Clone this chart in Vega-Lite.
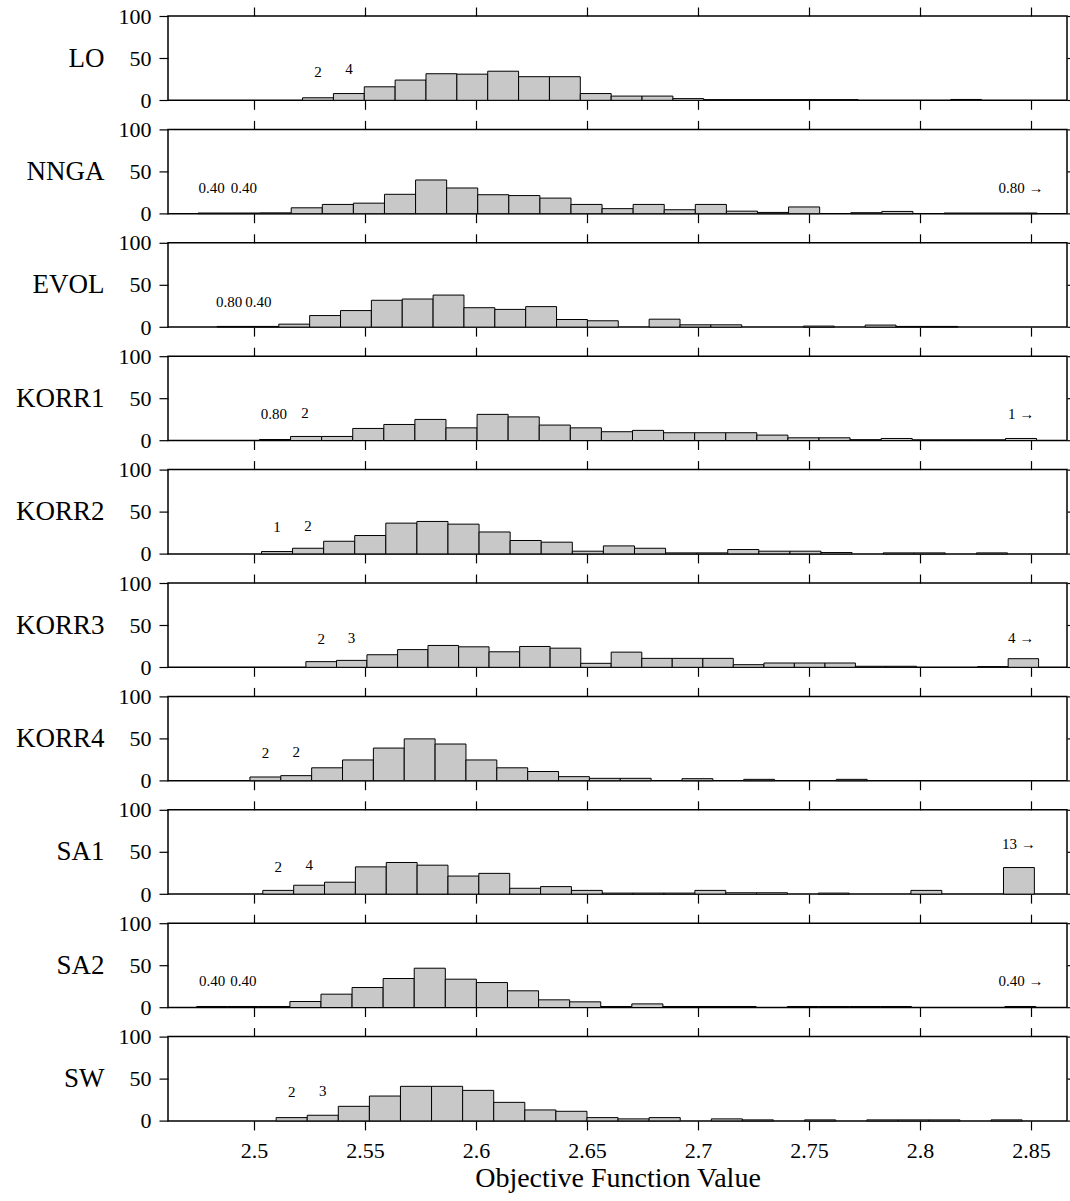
{
"$schema": "https://vega.github.io/schema/vega-lite/v6.json",
"padding": {"left": 14, "top": 4, "right": 0, "bottom": 0},
"background": "white",
"spacing": 28.4,
"bounds": "flush",
"config": {
 "view": {"stroke": "black", "strokeWidth": 1.5},
 "axis": {"tickColor": "black", "tickWidth": 1.2, "labelColor": "black", "titleColor": "black", "labelFont": "Liberation Serif", "titleFont": "Liberation Serif", "titleFontWeight": "normal", "grid": false, "labelFlush": false, "labelOverlap": false, "domain": false},
 "text": {"font": "Liberation Serif"}
},
"datasets": {
"bars": [
{"p":"LO","x0":2.5219,"x1":2.5358,"h":3},{"p":"LO","x0":2.5358,"x1":2.5497,"h":8},{"p":"LO","x0":2.5497,"x1":2.5636,"h":16},{"p":"LO","x0":2.5636,"x1":2.5775,"h":24},{"p":"LO","x0":2.5775,"x1":2.5914,"h":31.5},{"p":"LO","x0":2.5914,"x1":2.6053,"h":31},{"p":"LO","x0":2.6053,"x1":2.6192,"h":34.5},{"p":"LO","x0":2.6192,"x1":2.6331,"h":28},{"p":"LO","x0":2.6331,"x1":2.647,"h":28},{"p":"LO","x0":2.647,"x1":2.6609,"h":8},{"p":"LO","x0":2.6609,"x1":2.6748,"h":5},{"p":"LO","x0":2.6748,"x1":2.6887,"h":5},{"p":"LO","x0":2.6887,"x1":2.7026,"h":2},{"p":"LO","x0":2.7026,"x1":2.7165,"h":0.8},{"p":"LO","x0":2.7165,"x1":2.7304,"h":0.8},{"p":"LO","x0":2.7304,"x1":2.7443,"h":0.8},{"p":"LO","x0":2.7443,"x1":2.7582,"h":0.8},{"p":"LO","x0":2.7582,"x1":2.7721,"h":0.8},{"p":"LO","x0":2.8138,"x1":2.8277,"h":1},
{"p":"NNGA","x0":2.4748,"x1":2.4888,"h":0.8},{"p":"NNGA","x0":2.4888,"x1":2.5028,"h":0.8},{"p":"NNGA","x0":2.5028,"x1":2.5168,"h":1},{"p":"NNGA","x0":2.5168,"x1":2.5308,"h":7},{"p":"NNGA","x0":2.5308,"x1":2.5448,"h":11},{"p":"NNGA","x0":2.5448,"x1":2.5588,"h":12.5},{"p":"NNGA","x0":2.5588,"x1":2.5728,"h":23},{"p":"NNGA","x0":2.5728,"x1":2.5868,"h":40},{"p":"NNGA","x0":2.5868,"x1":2.6008,"h":30.5},{"p":"NNGA","x0":2.6008,"x1":2.6148,"h":22.5},{"p":"NNGA","x0":2.6148,"x1":2.6288,"h":21.5},{"p":"NNGA","x0":2.6288,"x1":2.6428,"h":18.5},{"p":"NNGA","x0":2.6428,"x1":2.6568,"h":11},{"p":"NNGA","x0":2.6568,"x1":2.6708,"h":6},{"p":"NNGA","x0":2.6708,"x1":2.6848,"h":11},{"p":"NNGA","x0":2.6848,"x1":2.6988,"h":4.7},{"p":"NNGA","x0":2.6988,"x1":2.7128,"h":11},{"p":"NNGA","x0":2.7128,"x1":2.7268,"h":3},{"p":"NNGA","x0":2.7268,"x1":2.7408,"h":1.5},{"p":"NNGA","x0":2.7408,"x1":2.7548,"h":8},{"p":"NNGA","x0":2.7688,"x1":2.7828,"h":1.2},{"p":"NNGA","x0":2.7828,"x1":2.7968,"h":2.7},{"p":"NNGA","x0":2.8108,"x1":2.8248,"h":0.8},{"p":"NNGA","x0":2.8248,"x1":2.8388,"h":0.8},{"p":"NNGA","x0":2.8388,"x1":2.8528,"h":0.8},
{"p":"EVOL","x0":2.4834,"x1":2.4973,"h":0.8},{"p":"EVOL","x0":2.4973,"x1":2.5112,"h":0.8},{"p":"EVOL","x0":2.5112,"x1":2.5251,"h":3.5},{"p":"EVOL","x0":2.5251,"x1":2.539,"h":13.7},{"p":"EVOL","x0":2.539,"x1":2.5529,"h":19.6},{"p":"EVOL","x0":2.5529,"x1":2.5668,"h":31.8},{"p":"EVOL","x0":2.5668,"x1":2.5807,"h":33.3},{"p":"EVOL","x0":2.5807,"x1":2.5946,"h":38},{"p":"EVOL","x0":2.5946,"x1":2.6085,"h":23},{"p":"EVOL","x0":2.6085,"x1":2.6224,"h":21},{"p":"EVOL","x0":2.6224,"x1":2.6363,"h":24.3},{"p":"EVOL","x0":2.6363,"x1":2.6502,"h":9},{"p":"EVOL","x0":2.6502,"x1":2.6641,"h":7.5},{"p":"EVOL","x0":2.678,"x1":2.6919,"h":9.4},{"p":"EVOL","x0":2.6919,"x1":2.7058,"h":2.7},{"p":"EVOL","x0":2.7058,"x1":2.7197,"h":2.7},{"p":"EVOL","x0":2.7475,"x1":2.7614,"h":1.2},{"p":"EVOL","x0":2.7753,"x1":2.7892,"h":2.4},{"p":"EVOL","x0":2.7892,"x1":2.8031,"h":0.8},{"p":"EVOL","x0":2.8031,"x1":2.817,"h":0.8},
{"p":"KORR1","x0":2.5025,"x1":2.5165,"h":1.2},{"p":"KORR1","x0":2.5165,"x1":2.5305,"h":4.8},{"p":"KORR1","x0":2.5305,"x1":2.5445,"h":4.8},{"p":"KORR1","x0":2.5445,"x1":2.5585,"h":14.3},{"p":"KORR1","x0":2.5585,"x1":2.5725,"h":19},{"p":"KORR1","x0":2.5725,"x1":2.5865,"h":25},{"p":"KORR1","x0":2.5865,"x1":2.6005,"h":15},{"p":"KORR1","x0":2.6005,"x1":2.6145,"h":31},{"p":"KORR1","x0":2.6145,"x1":2.6285,"h":28},{"p":"KORR1","x0":2.6285,"x1":2.6425,"h":18.3},{"p":"KORR1","x0":2.6425,"x1":2.6565,"h":15},{"p":"KORR1","x0":2.6565,"x1":2.6705,"h":10.4},{"p":"KORR1","x0":2.6705,"x1":2.6845,"h":12},{"p":"KORR1","x0":2.6845,"x1":2.6985,"h":9.2},{"p":"KORR1","x0":2.6985,"x1":2.7125,"h":9.2},{"p":"KORR1","x0":2.7125,"x1":2.7265,"h":9.2},{"p":"KORR1","x0":2.7265,"x1":2.7405,"h":6.4},{"p":"KORR1","x0":2.7405,"x1":2.7545,"h":3.2},{"p":"KORR1","x0":2.7545,"x1":2.7685,"h":3.2},{"p":"KORR1","x0":2.7685,"x1":2.7825,"h":1},{"p":"KORR1","x0":2.7825,"x1":2.7965,"h":2.4},{"p":"KORR1","x0":2.7965,"x1":2.8105,"h":0.8},{"p":"KORR1","x0":2.8105,"x1":2.8245,"h":0.8},{"p":"KORR1","x0":2.8245,"x1":2.8385,"h":0.8},{"p":"KORR1","x0":2.8385,"x1":2.8525,"h":2.4},
{"p":"KORR2","x0":2.5034,"x1":2.5174,"h":2.8},{"p":"KORR2","x0":2.5174,"x1":2.5314,"h":6.7},{"p":"KORR2","x0":2.5314,"x1":2.5454,"h":15},{"p":"KORR2","x0":2.5454,"x1":2.5594,"h":21.8},{"p":"KORR2","x0":2.5594,"x1":2.5734,"h":36.5},{"p":"KORR2","x0":2.5734,"x1":2.5874,"h":38.5},{"p":"KORR2","x0":2.5874,"x1":2.6014,"h":35.3},{"p":"KORR2","x0":2.6014,"x1":2.6154,"h":26},{"p":"KORR2","x0":2.6154,"x1":2.6294,"h":15.9},{"p":"KORR2","x0":2.6294,"x1":2.6434,"h":13.9},{"p":"KORR2","x0":2.6434,"x1":2.6574,"h":3.2},{"p":"KORR2","x0":2.6574,"x1":2.6714,"h":9.5},{"p":"KORR2","x0":2.6714,"x1":2.6854,"h":6.7},{"p":"KORR2","x0":2.6854,"x1":2.6994,"h":1.2},{"p":"KORR2","x0":2.6994,"x1":2.7134,"h":1.2},{"p":"KORR2","x0":2.7134,"x1":2.7274,"h":5.2},{"p":"KORR2","x0":2.7274,"x1":2.7414,"h":3.2},{"p":"KORR2","x0":2.7414,"x1":2.7554,"h":3.2},{"p":"KORR2","x0":2.7554,"x1":2.7694,"h":1.6},{"p":"KORR2","x0":2.7834,"x1":2.7974,"h":1.2},{"p":"KORR2","x0":2.7974,"x1":2.8114,"h":1.2},{"p":"KORR2","x0":2.8254,"x1":2.8394,"h":1.2},
{"p":"KORR3","x0":2.5234,"x1":2.5372,"h":6.7},{"p":"KORR3","x0":2.5372,"x1":2.5509,"h":8.2},{"p":"KORR3","x0":2.5509,"x1":2.5647,"h":14.9},{"p":"KORR3","x0":2.5647,"x1":2.5784,"h":21},{"p":"KORR3","x0":2.5784,"x1":2.5922,"h":25.9},{"p":"KORR3","x0":2.5922,"x1":2.6059,"h":24.3},{"p":"KORR3","x0":2.6059,"x1":2.6197,"h":18.4},{"p":"KORR3","x0":2.6197,"x1":2.6334,"h":24.7},{"p":"KORR3","x0":2.6334,"x1":2.6472,"h":22.7},{"p":"KORR3","x0":2.6472,"x1":2.6609,"h":4.7},{"p":"KORR3","x0":2.6609,"x1":2.6747,"h":18},{"p":"KORR3","x0":2.6747,"x1":2.6884,"h":10.6},{"p":"KORR3","x0":2.6884,"x1":2.7022,"h":10.6},{"p":"KORR3","x0":2.7022,"x1":2.7159,"h":10.6},{"p":"KORR3","x0":2.7159,"x1":2.7297,"h":3.1},{"p":"KORR3","x0":2.7297,"x1":2.7434,"h":5.1},{"p":"KORR3","x0":2.7434,"x1":2.7572,"h":5.1},{"p":"KORR3","x0":2.7572,"x1":2.7709,"h":5.1},{"p":"KORR3","x0":2.7709,"x1":2.7847,"h":1.2},{"p":"KORR3","x0":2.7847,"x1":2.7984,"h":1.2},{"p":"KORR3","x0":2.8259,"x1":2.8397,"h":0.8},{"p":"KORR3","x0":2.8397,"x1":2.8534,"h":10.2},
{"p":"KORR4","x0":2.4982,"x1":2.5121,"h":4.4},{"p":"KORR4","x0":2.5121,"x1":2.526,"h":6},{"p":"KORR4","x0":2.526,"x1":2.5399,"h":15.3},{"p":"KORR4","x0":2.5399,"x1":2.5538,"h":24.6},{"p":"KORR4","x0":2.5538,"x1":2.5677,"h":38.7},{"p":"KORR4","x0":2.5677,"x1":2.5816,"h":49.6},{"p":"KORR4","x0":2.5816,"x1":2.5955,"h":43.5},{"p":"KORR4","x0":2.5955,"x1":2.6094,"h":24.6},{"p":"KORR4","x0":2.6094,"x1":2.6233,"h":15.3},{"p":"KORR4","x0":2.6233,"x1":2.6372,"h":10.9},{"p":"KORR4","x0":2.6372,"x1":2.6511,"h":4.8},{"p":"KORR4","x0":2.6511,"x1":2.665,"h":2.8},{"p":"KORR4","x0":2.665,"x1":2.6789,"h":2.8},{"p":"KORR4","x0":2.6928,"x1":2.7067,"h":2.4},{"p":"KORR4","x0":2.7206,"x1":2.7345,"h":1.6},{"p":"KORR4","x0":2.7623,"x1":2.7762,"h":1.6},
{"p":"SA1","x0":2.504,"x1":2.5179,"h":4.4},{"p":"SA1","x0":2.5179,"x1":2.5318,"h":10.5},{"p":"SA1","x0":2.5318,"x1":2.5457,"h":14.1},{"p":"SA1","x0":2.5457,"x1":2.5596,"h":32.3},{"p":"SA1","x0":2.5596,"x1":2.5735,"h":37.5},{"p":"SA1","x0":2.5735,"x1":2.5874,"h":34.3},{"p":"SA1","x0":2.5874,"x1":2.6013,"h":21.4},{"p":"SA1","x0":2.6013,"x1":2.6152,"h":24.6},{"p":"SA1","x0":2.6152,"x1":2.6291,"h":6.9},{"p":"SA1","x0":2.6291,"x1":2.643,"h":8.9},{"p":"SA1","x0":2.643,"x1":2.6569,"h":4.4},{"p":"SA1","x0":2.6569,"x1":2.6708,"h":1.2},{"p":"SA1","x0":2.6708,"x1":2.6847,"h":1.2},{"p":"SA1","x0":2.6847,"x1":2.6986,"h":1.2},{"p":"SA1","x0":2.6986,"x1":2.7125,"h":4.4},{"p":"SA1","x0":2.7125,"x1":2.7264,"h":1.6},{"p":"SA1","x0":2.7264,"x1":2.7403,"h":1.6},{"p":"SA1","x0":2.7542,"x1":2.7681,"h":1.2},{"p":"SA1","x0":2.7959,"x1":2.8098,"h":4.4},{"p":"SA1","x0":2.8376,"x1":2.8515,"h":31.5},
{"p":"SA2","x0":2.4742,"x1":2.4882,"h":1.2},{"p":"SA2","x0":2.4882,"x1":2.5022,"h":1.2},{"p":"SA2","x0":2.5022,"x1":2.5162,"h":1.2},{"p":"SA2","x0":2.5162,"x1":2.5302,"h":7.1},{"p":"SA2","x0":2.5302,"x1":2.5442,"h":15.8},{"p":"SA2","x0":2.5442,"x1":2.5582,"h":23.7},{"p":"SA2","x0":2.5582,"x1":2.5722,"h":34.4},{"p":"SA2","x0":2.5722,"x1":2.5862,"h":46.6},{"p":"SA2","x0":2.5862,"x1":2.6002,"h":33.6},{"p":"SA2","x0":2.6002,"x1":2.6142,"h":29.6},{"p":"SA2","x0":2.6142,"x1":2.6282,"h":19.8},{"p":"SA2","x0":2.6282,"x1":2.6422,"h":9.1},{"p":"SA2","x0":2.6422,"x1":2.6562,"h":6.7},{"p":"SA2","x0":2.6562,"x1":2.6702,"h":1.2},{"p":"SA2","x0":2.6702,"x1":2.6842,"h":4.3},{"p":"SA2","x0":2.6842,"x1":2.6982,"h":1.2},{"p":"SA2","x0":2.6982,"x1":2.7122,"h":1.2},{"p":"SA2","x0":2.7122,"x1":2.7262,"h":1.2},{"p":"SA2","x0":2.7402,"x1":2.7542,"h":1.2},{"p":"SA2","x0":2.7542,"x1":2.7682,"h":1.2},{"p":"SA2","x0":2.7682,"x1":2.7822,"h":1.2},{"p":"SA2","x0":2.7822,"x1":2.7962,"h":1.2},{"p":"SA2","x0":2.8382,"x1":2.8522,"h":1.2},
{"p":"SW","x0":2.51,"x1":2.524,"h":3.9},{"p":"SW","x0":2.524,"x1":2.538,"h":6.7},{"p":"SW","x0":2.538,"x1":2.552,"h":17.3},{"p":"SW","x0":2.552,"x1":2.566,"h":29.5},{"p":"SW","x0":2.566,"x1":2.58,"h":41},{"p":"SW","x0":2.58,"x1":2.594,"h":41},{"p":"SW","x0":2.594,"x1":2.608,"h":36.2},{"p":"SW","x0":2.608,"x1":2.622,"h":22},{"p":"SW","x0":2.622,"x1":2.636,"h":13},{"p":"SW","x0":2.636,"x1":2.65,"h":11.4},{"p":"SW","x0":2.65,"x1":2.664,"h":3.9},{"p":"SW","x0":2.664,"x1":2.678,"h":2.4},{"p":"SW","x0":2.678,"x1":2.692,"h":3.9},{"p":"SW","x0":2.706,"x1":2.72,"h":2.4},{"p":"SW","x0":2.72,"x1":2.734,"h":1.2},{"p":"SW","x0":2.748,"x1":2.762,"h":1.2},{"p":"SW","x0":2.776,"x1":2.79,"h":1.2},{"p":"SW","x0":2.79,"x1":2.804,"h":1.2},{"p":"SW","x0":2.804,"x1":2.818,"h":1.2},{"p":"SW","x0":2.832,"x1":2.846,"h":1.2}
],
"notes": [
{"p":"LO","t":"2","tx":2.5289,"ty":34},{"p":"LO","t":"4","tx":2.5428,"ty":37},
{"p":"NNGA","t":"0.40","tx":2.481,"ty":30},{"p":"NNGA","t":"0.40","tx":2.4955,"ty":30},{"p":"NNGA","t":"0.80 →","tx":2.8455,"ty":30},
{"p":"EVOL","t":"0.80","tx":2.4888,"ty":30},{"p":"EVOL","t":"0.40","tx":2.502,"ty":30},
{"p":"KORR1","t":"0.80","tx":2.509,"ty":32},{"p":"KORR1","t":"2","tx":2.523,"ty":33},{"p":"KORR1","t":"1 →","tx":2.8455,"ty":31},
{"p":"KORR2","t":"1","tx":2.5104,"ty":32},{"p":"KORR2","t":"2","tx":2.5244,"ty":33},
{"p":"KORR3","t":"2","tx":2.5303,"ty":34},{"p":"KORR3","t":"3","tx":2.544,"ty":35},{"p":"KORR3","t":"4 →","tx":2.8455,"ty":35},
{"p":"KORR4","t":"2","tx":2.5052,"ty":33},{"p":"KORR4","t":"2","tx":2.5191,"ty":34},
{"p":"SA1","t":"2","tx":2.511,"ty":32},{"p":"SA1","t":"4","tx":2.5249,"ty":34},{"p":"SA1","t":"13 →","tx":2.8445,"ty":60},
{"p":"SA2","t":"0.40","tx":2.4812,"ty":31},{"p":"SA2","t":"0.40","tx":2.4952,"ty":31},{"p":"SA2","t":"0.40 →","tx":2.8455,"ty":31},
{"p":"SW","t":"2","tx":2.517,"ty":34},{"p":"SW","t":"3","tx":2.531,"ty":36}
]
},
"vconcat": [
{"width":899,"height":84.3,"layer":[
 {"data":{"name":"bars"},"transform":[{"filter":"datum.p==='LO'"}],"mark":{"type":"rect","fill":"#c8c8c8","stroke":"black","strokeWidth":1},"encoding":{"x":{"field":"x0","type":"quantitative","scale":{"domain":[2.4613,2.8662],"nice":false,"zero":false},"axis":{"orient":"bottom","values":[2.5,2.55,2.6,2.65,2.7,2.75,2.8,2.85],"labels":false,"title":null,"tickSize":9}},"x2":{"field":"x1"},"y":{"field":"h","type":"quantitative","scale":{"domain":[0,100],"nice":false},"axis":{"orient":"left","values":[0,50,100],"tickSize":9,"labelFontSize":22,"labelPadding":8,"title":"LO","titleAngle":0,"titleAlign":"right","titleBaseline":"middle","titleX":-64,"titleY":42,"titleFontSize":27}},"y2":{"datum":0}}},
 {"data":{"name":"notes"},"transform":[{"filter":"datum.p==='LO'"}],"mark":{"type":"text","fontSize":15,"baseline":"middle"},"encoding":{"x":{"field":"tx","type":"quantitative","scale":{"domain":[2.4613,2.8662],"nice":false,"zero":false},"axis":null},"y":{"field":"ty","type":"quantitative","scale":{"domain":[0,100],"nice":false},"axis":null},"text":{"field":"t"}}},
 {"data":{"name":"bars"},"transform":[{"filter":"datum.p==='LO'"}],"mark":{"type":"point","opacity":0},"encoding":{"x":{"field":"x0","type":"quantitative","scale":{"domain":[2.4613,2.8662],"nice":false,"zero":false},"axis":{"orient":"top","values":[2.5,2.55,2.6,2.65,2.7,2.75,2.8,2.85],"labels":false,"title":null,"tickSize":9}},"y":{"field":"h","type":"quantitative","scale":{"domain":[0,100],"nice":false},"axis":{"orient":"right","values":[0,50,100],"labels":false,"title":null,"tickSize":4}}}}
],"resolve":{"axis":{"x":"independent","y":"independent"}}},
{"width":899,"height":84.3,"layer":[
 {"data":{"name":"bars"},"transform":[{"filter":"datum.p==='NNGA'"}],"mark":{"type":"rect","fill":"#c8c8c8","stroke":"black","strokeWidth":1},"encoding":{"x":{"field":"x0","type":"quantitative","scale":{"domain":[2.4613,2.8662],"nice":false,"zero":false},"axis":{"orient":"bottom","values":[2.5,2.55,2.6,2.65,2.7,2.75,2.8,2.85],"labels":false,"title":null,"tickSize":9}},"x2":{"field":"x1"},"y":{"field":"h","type":"quantitative","scale":{"domain":[0,100],"nice":false},"axis":{"orient":"left","values":[0,50,100],"tickSize":9,"labelFontSize":22,"labelPadding":8,"title":"NNGA","titleAngle":0,"titleAlign":"right","titleBaseline":"middle","titleX":-64,"titleY":42,"titleFontSize":27}},"y2":{"datum":0}}},
 {"data":{"name":"notes"},"transform":[{"filter":"datum.p==='NNGA'"}],"mark":{"type":"text","fontSize":15,"baseline":"middle"},"encoding":{"x":{"field":"tx","type":"quantitative","scale":{"domain":[2.4613,2.8662],"nice":false,"zero":false},"axis":null},"y":{"field":"ty","type":"quantitative","scale":{"domain":[0,100],"nice":false},"axis":null},"text":{"field":"t"}}},
 {"data":{"name":"bars"},"transform":[{"filter":"datum.p==='NNGA'"}],"mark":{"type":"point","opacity":0},"encoding":{"x":{"field":"x0","type":"quantitative","scale":{"domain":[2.4613,2.8662],"nice":false,"zero":false},"axis":{"orient":"top","values":[2.5,2.55,2.6,2.65,2.7,2.75,2.8,2.85],"labels":false,"title":null,"tickSize":9}},"y":{"field":"h","type":"quantitative","scale":{"domain":[0,100],"nice":false},"axis":{"orient":"right","values":[0,50,100],"labels":false,"title":null,"tickSize":4}}}}
],"resolve":{"axis":{"x":"independent","y":"independent"}}},
{"width":899,"height":84.3,"layer":[
 {"data":{"name":"bars"},"transform":[{"filter":"datum.p==='EVOL'"}],"mark":{"type":"rect","fill":"#c8c8c8","stroke":"black","strokeWidth":1},"encoding":{"x":{"field":"x0","type":"quantitative","scale":{"domain":[2.4613,2.8662],"nice":false,"zero":false},"axis":{"orient":"bottom","values":[2.5,2.55,2.6,2.65,2.7,2.75,2.8,2.85],"labels":false,"title":null,"tickSize":9}},"x2":{"field":"x1"},"y":{"field":"h","type":"quantitative","scale":{"domain":[0,100],"nice":false},"axis":{"orient":"left","values":[0,50,100],"tickSize":9,"labelFontSize":22,"labelPadding":8,"title":"EVOL","titleAngle":0,"titleAlign":"right","titleBaseline":"middle","titleX":-64,"titleY":42,"titleFontSize":27}},"y2":{"datum":0}}},
 {"data":{"name":"notes"},"transform":[{"filter":"datum.p==='EVOL'"}],"mark":{"type":"text","fontSize":15,"baseline":"middle"},"encoding":{"x":{"field":"tx","type":"quantitative","scale":{"domain":[2.4613,2.8662],"nice":false,"zero":false},"axis":null},"y":{"field":"ty","type":"quantitative","scale":{"domain":[0,100],"nice":false},"axis":null},"text":{"field":"t"}}},
 {"data":{"name":"bars"},"transform":[{"filter":"datum.p==='EVOL'"}],"mark":{"type":"point","opacity":0},"encoding":{"x":{"field":"x0","type":"quantitative","scale":{"domain":[2.4613,2.8662],"nice":false,"zero":false},"axis":{"orient":"top","values":[2.5,2.55,2.6,2.65,2.7,2.75,2.8,2.85],"labels":false,"title":null,"tickSize":9}},"y":{"field":"h","type":"quantitative","scale":{"domain":[0,100],"nice":false},"axis":{"orient":"right","values":[0,50,100],"labels":false,"title":null,"tickSize":4}}}}
],"resolve":{"axis":{"x":"independent","y":"independent"}}},
{"width":899,"height":84.3,"layer":[
 {"data":{"name":"bars"},"transform":[{"filter":"datum.p==='KORR1'"}],"mark":{"type":"rect","fill":"#c8c8c8","stroke":"black","strokeWidth":1},"encoding":{"x":{"field":"x0","type":"quantitative","scale":{"domain":[2.4613,2.8662],"nice":false,"zero":false},"axis":{"orient":"bottom","values":[2.5,2.55,2.6,2.65,2.7,2.75,2.8,2.85],"labels":false,"title":null,"tickSize":9}},"x2":{"field":"x1"},"y":{"field":"h","type":"quantitative","scale":{"domain":[0,100],"nice":false},"axis":{"orient":"left","values":[0,50,100],"tickSize":9,"labelFontSize":22,"labelPadding":8,"title":"KORR1","titleAngle":0,"titleAlign":"right","titleBaseline":"middle","titleX":-64,"titleY":42,"titleFontSize":27}},"y2":{"datum":0}}},
 {"data":{"name":"notes"},"transform":[{"filter":"datum.p==='KORR1'"}],"mark":{"type":"text","fontSize":15,"baseline":"middle"},"encoding":{"x":{"field":"tx","type":"quantitative","scale":{"domain":[2.4613,2.8662],"nice":false,"zero":false},"axis":null},"y":{"field":"ty","type":"quantitative","scale":{"domain":[0,100],"nice":false},"axis":null},"text":{"field":"t"}}},
 {"data":{"name":"bars"},"transform":[{"filter":"datum.p==='KORR1'"}],"mark":{"type":"point","opacity":0},"encoding":{"x":{"field":"x0","type":"quantitative","scale":{"domain":[2.4613,2.8662],"nice":false,"zero":false},"axis":{"orient":"top","values":[2.5,2.55,2.6,2.65,2.7,2.75,2.8,2.85],"labels":false,"title":null,"tickSize":9}},"y":{"field":"h","type":"quantitative","scale":{"domain":[0,100],"nice":false},"axis":{"orient":"right","values":[0,50,100],"labels":false,"title":null,"tickSize":4}}}}
],"resolve":{"axis":{"x":"independent","y":"independent"}}},
{"width":899,"height":84.3,"layer":[
 {"data":{"name":"bars"},"transform":[{"filter":"datum.p==='KORR2'"}],"mark":{"type":"rect","fill":"#c8c8c8","stroke":"black","strokeWidth":1},"encoding":{"x":{"field":"x0","type":"quantitative","scale":{"domain":[2.4613,2.8662],"nice":false,"zero":false},"axis":{"orient":"bottom","values":[2.5,2.55,2.6,2.65,2.7,2.75,2.8,2.85],"labels":false,"title":null,"tickSize":9}},"x2":{"field":"x1"},"y":{"field":"h","type":"quantitative","scale":{"domain":[0,100],"nice":false},"axis":{"orient":"left","values":[0,50,100],"tickSize":9,"labelFontSize":22,"labelPadding":8,"title":"KORR2","titleAngle":0,"titleAlign":"right","titleBaseline":"middle","titleX":-64,"titleY":42,"titleFontSize":27}},"y2":{"datum":0}}},
 {"data":{"name":"notes"},"transform":[{"filter":"datum.p==='KORR2'"}],"mark":{"type":"text","fontSize":15,"baseline":"middle"},"encoding":{"x":{"field":"tx","type":"quantitative","scale":{"domain":[2.4613,2.8662],"nice":false,"zero":false},"axis":null},"y":{"field":"ty","type":"quantitative","scale":{"domain":[0,100],"nice":false},"axis":null},"text":{"field":"t"}}},
 {"data":{"name":"bars"},"transform":[{"filter":"datum.p==='KORR2'"}],"mark":{"type":"point","opacity":0},"encoding":{"x":{"field":"x0","type":"quantitative","scale":{"domain":[2.4613,2.8662],"nice":false,"zero":false},"axis":{"orient":"top","values":[2.5,2.55,2.6,2.65,2.7,2.75,2.8,2.85],"labels":false,"title":null,"tickSize":9}},"y":{"field":"h","type":"quantitative","scale":{"domain":[0,100],"nice":false},"axis":{"orient":"right","values":[0,50,100],"labels":false,"title":null,"tickSize":4}}}}
],"resolve":{"axis":{"x":"independent","y":"independent"}}},
{"width":899,"height":84.3,"layer":[
 {"data":{"name":"bars"},"transform":[{"filter":"datum.p==='KORR3'"}],"mark":{"type":"rect","fill":"#c8c8c8","stroke":"black","strokeWidth":1},"encoding":{"x":{"field":"x0","type":"quantitative","scale":{"domain":[2.4613,2.8662],"nice":false,"zero":false},"axis":{"orient":"bottom","values":[2.5,2.55,2.6,2.65,2.7,2.75,2.8,2.85],"labels":false,"title":null,"tickSize":9}},"x2":{"field":"x1"},"y":{"field":"h","type":"quantitative","scale":{"domain":[0,100],"nice":false},"axis":{"orient":"left","values":[0,50,100],"tickSize":9,"labelFontSize":22,"labelPadding":8,"title":"KORR3","titleAngle":0,"titleAlign":"right","titleBaseline":"middle","titleX":-64,"titleY":42,"titleFontSize":27}},"y2":{"datum":0}}},
 {"data":{"name":"notes"},"transform":[{"filter":"datum.p==='KORR3'"}],"mark":{"type":"text","fontSize":15,"baseline":"middle"},"encoding":{"x":{"field":"tx","type":"quantitative","scale":{"domain":[2.4613,2.8662],"nice":false,"zero":false},"axis":null},"y":{"field":"ty","type":"quantitative","scale":{"domain":[0,100],"nice":false},"axis":null},"text":{"field":"t"}}},
 {"data":{"name":"bars"},"transform":[{"filter":"datum.p==='KORR3'"}],"mark":{"type":"point","opacity":0},"encoding":{"x":{"field":"x0","type":"quantitative","scale":{"domain":[2.4613,2.8662],"nice":false,"zero":false},"axis":{"orient":"top","values":[2.5,2.55,2.6,2.65,2.7,2.75,2.8,2.85],"labels":false,"title":null,"tickSize":9}},"y":{"field":"h","type":"quantitative","scale":{"domain":[0,100],"nice":false},"axis":{"orient":"right","values":[0,50,100],"labels":false,"title":null,"tickSize":4}}}}
],"resolve":{"axis":{"x":"independent","y":"independent"}}},
{"width":899,"height":84.3,"layer":[
 {"data":{"name":"bars"},"transform":[{"filter":"datum.p==='KORR4'"}],"mark":{"type":"rect","fill":"#c8c8c8","stroke":"black","strokeWidth":1},"encoding":{"x":{"field":"x0","type":"quantitative","scale":{"domain":[2.4613,2.8662],"nice":false,"zero":false},"axis":{"orient":"bottom","values":[2.5,2.55,2.6,2.65,2.7,2.75,2.8,2.85],"labels":false,"title":null,"tickSize":9}},"x2":{"field":"x1"},"y":{"field":"h","type":"quantitative","scale":{"domain":[0,100],"nice":false},"axis":{"orient":"left","values":[0,50,100],"tickSize":9,"labelFontSize":22,"labelPadding":8,"title":"KORR4","titleAngle":0,"titleAlign":"right","titleBaseline":"middle","titleX":-64,"titleY":42,"titleFontSize":27}},"y2":{"datum":0}}},
 {"data":{"name":"notes"},"transform":[{"filter":"datum.p==='KORR4'"}],"mark":{"type":"text","fontSize":15,"baseline":"middle"},"encoding":{"x":{"field":"tx","type":"quantitative","scale":{"domain":[2.4613,2.8662],"nice":false,"zero":false},"axis":null},"y":{"field":"ty","type":"quantitative","scale":{"domain":[0,100],"nice":false},"axis":null},"text":{"field":"t"}}},
 {"data":{"name":"bars"},"transform":[{"filter":"datum.p==='KORR4'"}],"mark":{"type":"point","opacity":0},"encoding":{"x":{"field":"x0","type":"quantitative","scale":{"domain":[2.4613,2.8662],"nice":false,"zero":false},"axis":{"orient":"top","values":[2.5,2.55,2.6,2.65,2.7,2.75,2.8,2.85],"labels":false,"title":null,"tickSize":9}},"y":{"field":"h","type":"quantitative","scale":{"domain":[0,100],"nice":false},"axis":{"orient":"right","values":[0,50,100],"labels":false,"title":null,"tickSize":4}}}}
],"resolve":{"axis":{"x":"independent","y":"independent"}}},
{"width":899,"height":84.3,"layer":[
 {"data":{"name":"bars"},"transform":[{"filter":"datum.p==='SA1'"}],"mark":{"type":"rect","fill":"#c8c8c8","stroke":"black","strokeWidth":1},"encoding":{"x":{"field":"x0","type":"quantitative","scale":{"domain":[2.4613,2.8662],"nice":false,"zero":false},"axis":{"orient":"bottom","values":[2.5,2.55,2.6,2.65,2.7,2.75,2.8,2.85],"labels":false,"title":null,"tickSize":9}},"x2":{"field":"x1"},"y":{"field":"h","type":"quantitative","scale":{"domain":[0,100],"nice":false},"axis":{"orient":"left","values":[0,50,100],"tickSize":9,"labelFontSize":22,"labelPadding":8,"title":"SA1","titleAngle":0,"titleAlign":"right","titleBaseline":"middle","titleX":-64,"titleY":42,"titleFontSize":27}},"y2":{"datum":0}}},
 {"data":{"name":"notes"},"transform":[{"filter":"datum.p==='SA1'"}],"mark":{"type":"text","fontSize":15,"baseline":"middle"},"encoding":{"x":{"field":"tx","type":"quantitative","scale":{"domain":[2.4613,2.8662],"nice":false,"zero":false},"axis":null},"y":{"field":"ty","type":"quantitative","scale":{"domain":[0,100],"nice":false},"axis":null},"text":{"field":"t"}}},
 {"data":{"name":"bars"},"transform":[{"filter":"datum.p==='SA1'"}],"mark":{"type":"point","opacity":0},"encoding":{"x":{"field":"x0","type":"quantitative","scale":{"domain":[2.4613,2.8662],"nice":false,"zero":false},"axis":{"orient":"top","values":[2.5,2.55,2.6,2.65,2.7,2.75,2.8,2.85],"labels":false,"title":null,"tickSize":9}},"y":{"field":"h","type":"quantitative","scale":{"domain":[0,100],"nice":false},"axis":{"orient":"right","values":[0,50,100],"labels":false,"title":null,"tickSize":4}}}}
],"resolve":{"axis":{"x":"independent","y":"independent"}}},
{"width":899,"height":84.3,"layer":[
 {"data":{"name":"bars"},"transform":[{"filter":"datum.p==='SA2'"}],"mark":{"type":"rect","fill":"#c8c8c8","stroke":"black","strokeWidth":1},"encoding":{"x":{"field":"x0","type":"quantitative","scale":{"domain":[2.4613,2.8662],"nice":false,"zero":false},"axis":{"orient":"bottom","values":[2.5,2.55,2.6,2.65,2.7,2.75,2.8,2.85],"labels":false,"title":null,"tickSize":9}},"x2":{"field":"x1"},"y":{"field":"h","type":"quantitative","scale":{"domain":[0,100],"nice":false},"axis":{"orient":"left","values":[0,50,100],"tickSize":9,"labelFontSize":22,"labelPadding":8,"title":"SA2","titleAngle":0,"titleAlign":"right","titleBaseline":"middle","titleX":-64,"titleY":42,"titleFontSize":27}},"y2":{"datum":0}}},
 {"data":{"name":"notes"},"transform":[{"filter":"datum.p==='SA2'"}],"mark":{"type":"text","fontSize":15,"baseline":"middle"},"encoding":{"x":{"field":"tx","type":"quantitative","scale":{"domain":[2.4613,2.8662],"nice":false,"zero":false},"axis":null},"y":{"field":"ty","type":"quantitative","scale":{"domain":[0,100],"nice":false},"axis":null},"text":{"field":"t"}}},
 {"data":{"name":"bars"},"transform":[{"filter":"datum.p==='SA2'"}],"mark":{"type":"point","opacity":0},"encoding":{"x":{"field":"x0","type":"quantitative","scale":{"domain":[2.4613,2.8662],"nice":false,"zero":false},"axis":{"orient":"top","values":[2.5,2.55,2.6,2.65,2.7,2.75,2.8,2.85],"labels":false,"title":null,"tickSize":9}},"y":{"field":"h","type":"quantitative","scale":{"domain":[0,100],"nice":false},"axis":{"orient":"right","values":[0,50,100],"labels":false,"title":null,"tickSize":4}}}}
],"resolve":{"axis":{"x":"independent","y":"independent"}}},
{"width":899,"height":84.3,"layer":[
 {"data":{"name":"bars"},"transform":[{"filter":"datum.p==='SW'"}],"mark":{"type":"rect","fill":"#c8c8c8","stroke":"black","strokeWidth":1},"encoding":{"x":{"field":"x0","type":"quantitative","scale":{"domain":[2.4613,2.8662],"nice":false,"zero":false},"axis":{"orient":"bottom","values":[2.5,2.55,2.6,2.65,2.7,2.75,2.8,2.85],"format":"~g","labelFontSize":22,"labelPadding":11,"title":"Objective Function Value","titleFontSize":28,"titlePadding":3,"tickSize":9}},"x2":{"field":"x1"},"y":{"field":"h","type":"quantitative","scale":{"domain":[0,100],"nice":false},"axis":{"orient":"left","values":[0,50,100],"tickSize":9,"labelFontSize":22,"labelPadding":8,"title":"SW","titleAngle":0,"titleAlign":"right","titleBaseline":"middle","titleX":-64,"titleY":42,"titleFontSize":27}},"y2":{"datum":0}}},
 {"data":{"name":"notes"},"transform":[{"filter":"datum.p==='SW'"}],"mark":{"type":"text","fontSize":15,"baseline":"middle"},"encoding":{"x":{"field":"tx","type":"quantitative","scale":{"domain":[2.4613,2.8662],"nice":false,"zero":false},"axis":null},"y":{"field":"ty","type":"quantitative","scale":{"domain":[0,100],"nice":false},"axis":null},"text":{"field":"t"}}},
 {"data":{"name":"bars"},"transform":[{"filter":"datum.p==='SW'"}],"mark":{"type":"point","opacity":0},"encoding":{"x":{"field":"x0","type":"quantitative","scale":{"domain":[2.4613,2.8662],"nice":false,"zero":false},"axis":{"orient":"top","values":[2.5,2.55,2.6,2.65,2.7,2.75,2.8,2.85],"labels":false,"title":null,"tickSize":9}},"y":{"field":"h","type":"quantitative","scale":{"domain":[0,100],"nice":false},"axis":{"orient":"right","values":[0,50,100],"labels":false,"title":null,"tickSize":4}}}}
],"resolve":{"axis":{"x":"independent","y":"independent"}}}
]
}
